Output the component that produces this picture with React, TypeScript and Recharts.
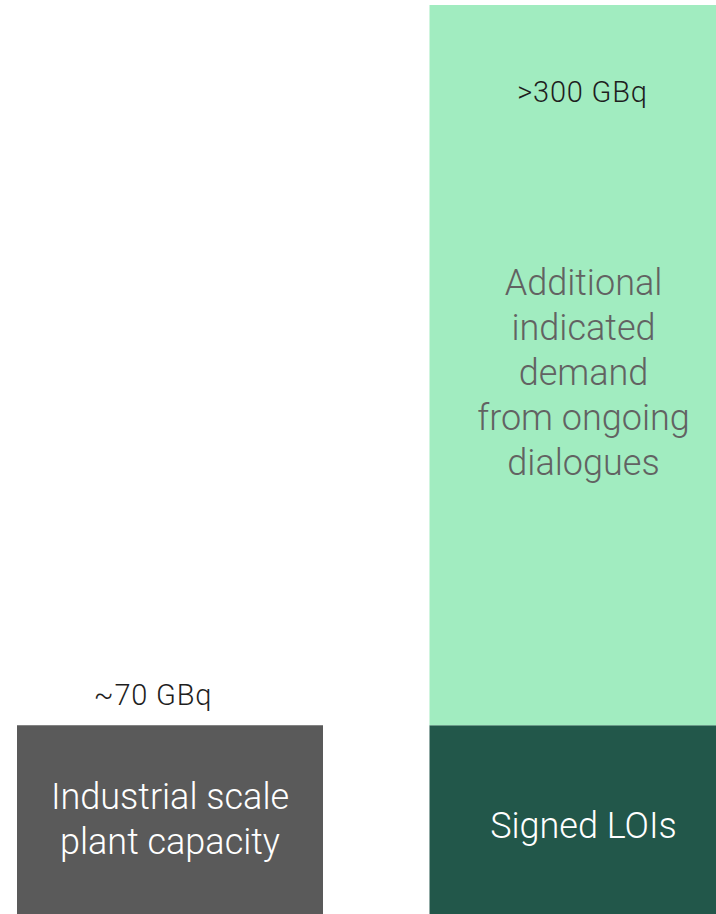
import { Bar, BarChart, LabelList, XAxis, YAxis } from "recharts";

// values (GBq, schematic)
const categories = ["Plant", "Demand"];
const plantCapacity = [70, 0];
const signedLois = [0, 70];
const additionalDemand = [0, 267];
const valueLabels = ["~70 GBq", ">300 GBq"];
const capacityText = ["Industrial scale", "plant capacity"];
const signedText = ["Signed LOIs"];
const additionalText = ["Additional", "indicated", "demand", "from ongoing", "dialogues"];

const data = categories.map((name, i) => ({
  name,
  capacity: plantCapacity[i] || null,
  signed: signedLois[i] || null,
  additional: additionalDemand[i] || null,
}));

const FONT = "Roboto, 'Noto Sans', sans-serif";

// centred multi-line text inside a bar segment
const innerText = (lines: string[], fill: string, dx = 0, dy = 6) => (props: any) => {
  const { x, y, width, height, index } = props;
  if (!data[index] || height == null || height <= 0) return null;
  const cx = x + width / 2 + dx;
  const lh = 45;
  const top = y + height / 2 - ((lines.length - 1) * lh) / 2 + dy;
  return (
    <text
      x={cx}
      y={top}
      textAnchor="middle"
      dominantBaseline="central"
      fill={fill}
      fontFamily={FONT}
      fontSize={36}
      fontWeight={300}
    >
      {lines.map((l, i) => (
        <tspan key={i} x={cx} y={top + i * lh}>
          {l}
        </tspan>
      ))}
    </text>
  );
};

const valueText = (idx: number, dx: number, dy: number) => (props: any) => {
  const { x, y, width, height } = props;
  if (height == null || height <= 0) return null;
  return (
    <text
      x={x + width / 2 + dx}
      y={y + dy}
      textAnchor="middle"
      fill="#1e1e1e"
      fontFamily={FONT}
      fontSize={29}
      fontWeight={300}
      letterSpacing={0.8}
    >
      {valueLabels[idx]}
    </text>
  );
};

export default function App() {
  return (
    <div
      style={{
        position: "absolute",
        left: 0,
        top: 0,
        width: 716,
        height: 914,
        overflow: "hidden",
        background: "#ffffff",
      }}
    >
      <div style={{ position: "absolute", left: -36, top: 0 }}>
        <BarChart
          width={825}
          height={914}
          data={data}
          margin={{ top: 5, right: 0, bottom: 0, left: 0 }}
          barSize={306}
        >
          <XAxis dataKey="name" hide />
          <YAxis hide domain={[0, 337]} />
          <Bar dataKey="capacity" stackId="a" fill="#5a5a5a" isAnimationActive={false}>
            <LabelList dataKey="capacity" content={innerText(capacityText, "#ffffff", 0, 0)} />
            <LabelList dataKey="capacity" content={valueText(0, -17, -20)} />
          </Bar>
          <Bar dataKey="signed" stackId="a" fill="#22574a" isAnimationActive={false}>
            <LabelList dataKey="signed" content={innerText(signedText, "#ffffff", 1, 6)} />
          </Bar>
          <Bar dataKey="additional" stackId="a" fill="#a1ecc0" isAnimationActive={false}>
            <LabelList dataKey="additional" content={innerText(additionalText, "#626262", 1, 8)} />
            <LabelList dataKey="additional" content={valueText(1, 0, 97)} />
          </Bar>
        </BarChart>
      </div>
    </div>
  );
}
